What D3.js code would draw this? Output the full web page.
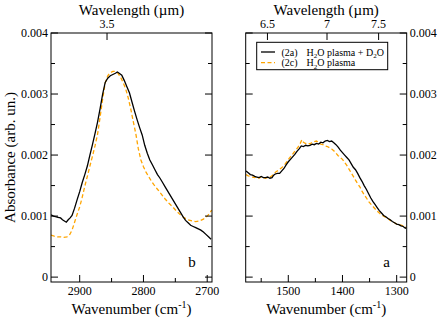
<!DOCTYPE html>
<html>
<head>
<meta charset="utf-8">
<script src="https://cdn.jsdelivr.net/npm/d3@7"></script>
<style>
  body { margin: 0; background: #fff; }
  svg { display: block; }
</style>
</head>
<body>
<div id="chart"></div>
<script>
// panel b (C-H stretch region): [wavenumber, absorbance]
const bBlack = [
  [2945,0.00102],[2941,0.00100],[2938,0.00099],[2934,0.00098],[2930,0.00097],[2927,0.00094],
  [2924,0.00092],[2921,0.00090],[2918,0.00094],[2915,0.00097],[2912,0.00101],[2908,0.00113],
  [2904,0.00127],[2900,0.00140],[2896,0.00155],[2892,0.00168],[2888,0.00182],[2884,0.00200],
  [2880,0.00217],[2876,0.00235],[2872,0.00254],[2868,0.00276],[2864,0.00300],[2860,0.00319],
  [2856,0.00326],[2852,0.00330],[2848,0.00332],[2844,0.00334],[2841,0.00336],[2838,0.00334],
  [2834,0.00331],[2830,0.00322],[2826,0.00312],[2822,0.00302],[2818,0.00287],[2814,0.00272],
  [2810,0.00258],[2806,0.00245],[2802,0.00233],[2798,0.00216],[2794,0.00203],[2790,0.00192],
  [2786,0.00184],[2782,0.00176],[2778,0.00168],[2774,0.00162],[2770,0.00155],[2766,0.00148],
  [2762,0.00141],[2758,0.00134],[2754,0.00127],[2750,0.00120],[2746,0.00113],[2742,0.00106],
  [2738,0.00099],[2734,0.00093],[2730,0.00089],[2726,0.00085],[2722,0.00083],[2718,0.00081],
  [2714,0.00079],[2710,0.00077],[2706,0.00074],[2702,0.00070],[2698,0.00066],[2694,0.00062]
];
const bOrange = [
  [2945,0.00069],[2940,0.00067],[2935,0.00066],[2930,0.00066],[2925,0.00065],[2920,0.00066],
  [2916,0.00069],[2912,0.00077],[2908,0.00090],[2904,0.00103],[2900,0.00115],[2896,0.00131],
  [2892,0.00149],[2888,0.00165],[2884,0.00182],[2880,0.00198],[2876,0.00215],[2872,0.00234],
  [2868,0.00262],[2864,0.00292],[2860,0.00318],[2856,0.00330],[2852,0.00335],[2848,0.00337],
  [2844,0.00337],[2840,0.00334],[2836,0.00328],[2832,0.00319],[2828,0.00309],[2824,0.00294],
  [2820,0.00276],[2816,0.00255],[2812,0.00235],[2808,0.00210],[2804,0.00192],[2800,0.00181],
  [2796,0.00172],[2792,0.00165],[2788,0.00158],[2784,0.00152],[2778,0.00144],[2772,0.00136],
  [2766,0.00128],[2760,0.00121],[2754,0.00115],[2748,0.00108],[2742,0.00102],[2736,0.00097],
  [2730,0.00094],[2724,0.00092],[2718,0.00091],[2712,0.00092],[2706,0.00095],[2700,0.00100],
  [2696,0.00105],[2693,0.00110]
];
// panel a (1580-1280 cm-1 region)
const aBlack = [
  [1578,0.00174],[1574,0.00171],[1570,0.00168],[1566,0.00167],[1562,0.00165],[1558,0.00164],
  [1554,0.00163],[1550,0.00165],[1546,0.00163],[1542,0.00163],[1538,0.00164],[1534,0.00162],
  [1530,0.00163],[1527,0.00167],[1524,0.00169],[1520,0.00170],[1516,0.00170],[1512,0.00174],
  [1508,0.00178],[1504,0.00184],[1500,0.00189],[1496,0.00193],[1492,0.00197],[1488,0.00201],
  [1484,0.00206],[1480,0.00210],[1476,0.00215],[1472,0.00214],[1468,0.00216],[1464,0.00215],
  [1460,0.00216],[1456,0.00218],[1452,0.00217],[1448,0.00219],[1444,0.00218],[1440,0.00221],
  [1436,0.00220],[1432,0.00223],[1428,0.00224],[1424,0.00222],[1420,0.00223],[1416,0.00220],
  [1412,0.00217],[1408,0.00213],[1404,0.00208],[1400,0.00204],[1396,0.00200],[1392,0.00196],
  [1388,0.00192],[1384,0.00186],[1380,0.00180],[1376,0.00176],[1372,0.00170],[1368,0.00163],
  [1364,0.00157],[1360,0.00150],[1356,0.00144],[1352,0.00137],[1348,0.00130],[1344,0.00124],
  [1340,0.00119],[1336,0.00114],[1332,0.00109],[1328,0.00105],[1324,0.00101],[1320,0.00099],
  [1316,0.00096],[1312,0.00094],[1308,0.00091],[1304,0.00089],[1300,0.00087],[1296,0.00086],
  [1292,0.00084],[1288,0.00083],[1284,0.00080],[1282,0.00081]
];
const aOrange = [
  [1578,0.00168],[1574,0.00166],[1570,0.00165],[1566,0.00164],[1562,0.00163],[1558,0.00165],
  [1554,0.00162],[1550,0.00164],[1546,0.00163],[1542,0.00162],[1538,0.00163],[1534,0.00164],
  [1530,0.00166],[1526,0.00170],[1522,0.00173],[1518,0.00175],[1514,0.00178],[1510,0.00181],
  [1506,0.00185],[1502,0.00190],[1498,0.00195],[1494,0.00199],[1490,0.00204],[1486,0.00208],
  [1482,0.00213],[1478,0.00219],[1475,0.00225],[1472,0.00221],[1468,0.00219],[1464,0.00220],
  [1460,0.00218],[1456,0.00221],[1452,0.00222],[1448,0.00223],[1444,0.00220],[1440,0.00218],
  [1436,0.00217],[1432,0.00215],[1428,0.00214],[1424,0.00212],[1420,0.00210],[1416,0.00207],
  [1412,0.00203],[1408,0.00199],[1404,0.00196],[1400,0.00193],[1396,0.00188],[1392,0.00183],
  [1388,0.00177],[1384,0.00171],[1380,0.00165],[1376,0.00159],[1372,0.00153],[1368,0.00148],
  [1364,0.00141],[1360,0.00135],[1356,0.00130],[1352,0.00124],[1348,0.00120],[1344,0.00116],
  [1340,0.00112],[1336,0.00108],[1332,0.00105],[1328,0.00102],[1324,0.00100],[1320,0.00098],
  [1316,0.00096],[1312,0.00093],[1308,0.00091],[1304,0.00089],[1300,0.00087],[1296,0.00086],
  [1292,0.00085],[1288,0.00084],[1284,0.00082],[1282,0.00082]
];

const yTicks = [0, 0.001, 0.002, 0.003, 0.004];
const yMinor = [0.0005, 0.0015, 0.0025, 0.0035];
const bWnTicks = [2900, 2800, 2700];
const bWnMinor = [2850, 2750];
const aWnTicks = [1500, 1400, 1300];
const aWnMinor = [1550, 1450, 1350];
const bLambdaTicks = [3.5];
const aLambdaTicks = [6.5, 7, 7.5];
const legendItems = [
  { tag: "(2a)", label: ["H", "2", "O plasma + D", "2", "O"], color: "#000000", dash: null },
  { tag: "(2c)", label: ["H", "2", "O plasma"], color: "#ffa500", dash: "4,2.5" }
];

const W = 442, H = 321;
const serif = '"Liberation Serif"';
const svg = d3.select("#chart").append("svg").attr("width", W).attr("height", H);
const txt = (sel) => sel.append("text").style("font-family", serif);

const plotTop = 33, plotBottom = 282;
const y = d3.scaleLinear().domain([-0.00008, 0.004]).range([plotBottom, plotTop]);
const yFmt = d => d === 0 ? "0" : d3.format(".3f")(d);

const panels = [
  { left: 51, right: 212, domain: [2945, 2692.5], ticks: bWnTicks, minor: bWnMinor,
    lam: bLambdaTicks, series: [bBlack, bOrange], letter: "b", labelSide: "left" },
  { left: 245.7, right: 406.7, domain: [1578.6, 1281.5], ticks: aWnTicks, minor: aWnMinor,
    lam: aLambdaTicks, series: [aBlack, aOrange], letter: "a", labelSide: "right" }
];

const colors = ["#000000", "#ffa500"];
const dashes = [null, "4,2.5"];

panels.forEach(p => {
  const x = d3.scaleLinear().domain(p.domain).range([p.left, p.right]);
  const g = svg.append("g");

  const clipId = "clip-" + p.letter;
  svg.append("clipPath").attr("id", clipId)
    .append("rect").attr("x", p.left).attr("y", plotTop)
    .attr("width", p.right - p.left).attr("height", plotBottom - plotTop);

  // curves (orange drawn first, black on top)
  [1, 0].forEach(i => {
    g.append("path")
      .datum(p.series[i])
      .attr("clip-path", `url(#${clipId})`)
      .attr("fill", "none")
      .attr("stroke", colors[i])
      .attr("stroke-width", 1.3)
      .attr("stroke-dasharray", dashes[i])
      .attr("d", d3.line().x(d => x(d[0])).y(d => y(d[1])));
  });

  // inward ticks
  const tk = (x1, y1, x2, y2) => g.append("line")
    .attr("x1", x1).attr("y1", y1).attr("x2", x2).attr("y2", y2)
    .attr("stroke", "#000").attr("stroke-width", 1);

  yTicks.forEach(v => { tk(p.left, y(v), p.left + 7, y(v)); tk(p.right, y(v), p.right - 7, y(v)); });
  yMinor.forEach(v => { tk(p.left, y(v), p.left + 4, y(v)); tk(p.right, y(v), p.right - 4, y(v)); });
  p.ticks.forEach(v => tk(x(v), plotBottom, x(v), plotBottom - 7));
  p.minor.forEach(v => tk(x(v), plotBottom, x(v), plotBottom - 4));
  p.lam.forEach(v => tk(x(10000 / v), plotTop, x(10000 / v), plotTop + 7));

  // frame
  g.append("rect").attr("x", p.left).attr("y", plotTop)
    .attr("width", p.right - p.left).attr("height", plotBottom - plotTop)
    .attr("fill", "none").attr("stroke", "#000").attr("stroke-width", 1);

  // tick labels
  p.ticks.forEach(v => txt(g).attr("x", x(v)).attr("y", 295)
    .attr("text-anchor", "middle").attr("font-size", 12).text(v));
  p.lam.forEach(v => txt(g).attr("x", x(10000 / v)).attr("y", 28)
    .attr("text-anchor", "middle").attr("font-size", 12).text(v));
  yTicks.forEach(v => {
    const lx = p.labelSide === "left" ? p.left - 3 : p.right + 3;
    txt(g).attr("x", lx).attr("y", y(v) + 4)
      .attr("text-anchor", p.labelSide === "left" ? "end" : "start")
      .attr("font-size", 12).text(yFmt(v));
  });

  // panel letter
  txt(g).attr("x", p.right - 20).attr("y", 267)
    .attr("text-anchor", "middle").attr("font-size", 15).text(p.letter);

  // axis titles
  const cx = (p.left + p.right) / 2;
  txt(g).attr("x", cx).attr("y", 15).attr("text-anchor", "middle")
    .attr("font-size", 15).text("Wavelength (\u00b5m)");
  const t = txt(g).attr("x", cx).attr("y", 314).attr("text-anchor", "middle")
    .attr("font-size", 15);
  t.append("tspan").text("Wavenumber (cm");
  t.append("tspan").attr("dy", -6).attr("font-size", 10).text("-1");
  t.append("tspan").attr("dy", 6).text(")");
});

// y title
txt(svg)
  .attr("transform", `translate(15,${(plotTop + plotBottom) / 2}) rotate(-90)`)
  .attr("text-anchor", "middle").attr("font-size", 15)
  .text("Absorbance (arb. un.)");

// legend
const lg = svg.append("g");
lg.append("rect").attr("x", 256.7).attr("y", 42.3).attr("width", 131).attr("height", 27.4)
  .attr("fill", "#fff").attr("stroke", "#000").attr("stroke-width", 1);
legendItems.forEach((it, i) => {
  const ly = 52 + i * 10.7;
  lg.append("line").attr("x1", 261).attr("x2", 275).attr("y1", ly).attr("y2", ly)
    .attr("stroke", it.color).attr("stroke-width", 1.3).attr("stroke-dasharray", it.dash);
  txt(lg).attr("x", 281.5).attr("y", ly + 3.5).attr("font-size", 10).text(it.tag);
  const tx = txt(lg).attr("x", 306.5).attr("y", ly + 3.5).attr("font-size", 10);
  it.label.forEach((s, k) => {
    if (k % 2 === 1) tx.append("tspan").attr("dy", 2.5).attr("font-size", 7).text(s);
    else tx.append("tspan").attr("dy", k === 0 ? 0 : -2.5).text(s);
  });
});
</script>
</body>
</html>
